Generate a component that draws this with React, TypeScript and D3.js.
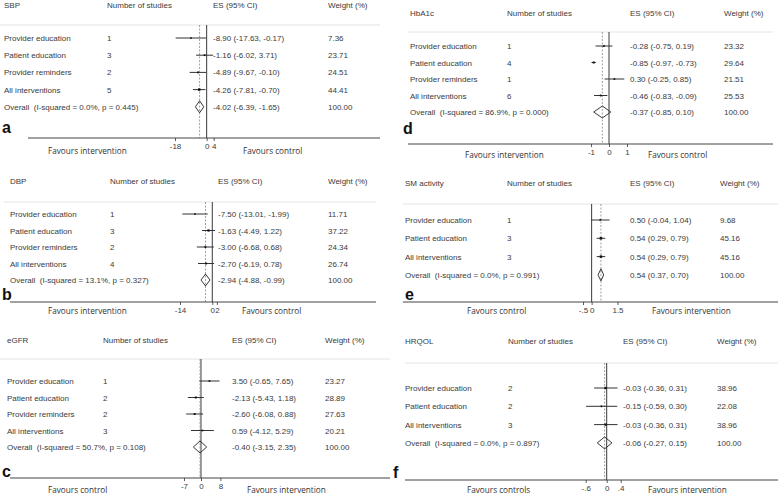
import React, { useEffect, useRef } from "react";
import * as d3 from "d3";

// ---------- DATA ----------
const sbpCategories = ["Provider education", "Patient education", "Provider reminders", "All interventions", "Overall"];
const sbpStudies = ["1", "3", "2", "5", ""];
const sbpEffect = [-8.9, -1.16, -4.89, -4.26, -4.02];
const sbpLower = [-17.63, -6.02, -9.67, -7.81, -6.39];
const sbpUpper = [-0.17, 3.71, -0.1, -0.7, -1.65];
const sbpWeight = [7.36, 23.71, 24.51, 44.41, 100.0];
const sbpHet = "(I-squared = 0.0%, p = 0.445)";
const sbpTicks = [-18, 0, 4];
const sbpTickLabels = ["-18", "0", "4"];

const dbpCategories = ["Provider education", "Patient education", "Provider reminders", "All interventions", "Overall"];
const dbpStudies = ["1", "3", "2", "4", ""];
const dbpEffect = [-7.5, -1.63, -3.0, -2.7, -2.94];
const dbpLower = [-13.01, -4.49, -6.68, -6.19, -4.88];
const dbpUpper = [-1.99, 1.22, 0.68, 0.78, -0.99];
const dbpWeight = [11.71, 37.22, 24.34, 26.74, 100.0];
const dbpHet = "(I-squared = 13.1%, p = 0.327)";
const dbpTicks = [-14, 0, 2];
const dbpTickLabels = ["-14", "0", "2"];

const egfrCategories = ["Provider education", "Patient education", "Provider reminders", "All interventions", "Overall"];
const egfrStudies = ["1", "2", "2", "3", ""];
const egfrEffect = [3.5, -2.13, -2.6, 0.59, -0.4];
const egfrLower = [-0.65, -5.43, -6.08, -4.12, -3.15];
const egfrUpper = [7.65, 1.18, 0.88, 5.29, 2.35];
const egfrWeight = [23.27, 28.89, 27.63, 20.21, 100.0];
const egfrHet = "(I-squared = 50.7%, p = 0.108)";
const egfrTicks = [-7, 0, 8];
const egfrTickLabels = ["-7", "0", "8"];

const hba1cCategories = ["Provider education", "Patient education", "Provider reminders", "All interventions", "Overall"];
const hba1cStudies = ["1", "4", "1", "6", ""];
const hba1cEffect = [-0.28, -0.85, 0.3, -0.46, -0.37];
const hba1cLower = [-0.75, -0.97, -0.25, -0.83, -0.85];
const hba1cUpper = [0.19, -0.73, 0.85, -0.09, 0.1];
const hba1cWeight = [23.32, 29.64, 21.51, 25.53, 100.0];
const hba1cHet = "(I-squared = 86.9%, p = 0.000)";
const hba1cTicks = [-1, 0, 1];
const hba1cTickLabels = ["-1", "0", "1"];

const smCategories = ["Provider education", "Patient education", "All interventions", "Overall"];
const smStudies = ["1", "3", "3", ""];
const smEffect = [0.5, 0.54, 0.54, 0.54];
const smLower = [-0.04, 0.29, 0.29, 0.37];
const smUpper = [1.04, 0.79, 0.79, 0.7];
const smWeight = [9.68, 45.16, 45.16, 100.0];
const smHet = "(I-squared = 0.0%, p = 0.991)";
const smTicks = [-0.5, 0, 1.5];
const smTickLabels = ["-.5", "0", "1.5"];

const hrqolCategories = ["Provider education", "Patient education", "All interventions", "Overall"];
const hrqolStudies = ["2", "2", "3", ""];
const hrqolEffect = [-0.03, -0.15, -0.03, -0.06];
const hrqolLower = [-0.36, -0.59, -0.36, -0.27];
const hrqolUpper = [0.31, 0.3, 0.31, 0.15];
const hrqolWeight = [38.96, 22.08, 38.96, 100.0];
const hrqolHet = "(I-squared = 0.0%, p = 0.897)";
const hrqolTicks = [-0.6, 0, 0.4];
const hrqolTickLabels = ["-.6", "0", ".4"];

// ---------- LAYOUT ----------
type Panel = {
  letter: string; title: string;
  cats: string[]; n: string[]; es: number[]; lo: number[]; hi: number[]; w: number[]; het: string;
  ticks: number[]; tickLabels: string[];
  range: [number, number];
  favL: string; favR: string;
  labelX: number; nX: number; esX: number; wX: number;
  headY: number; sepY: number; sepX1: number; sepX2: number;
  row0: number; rowStep: number;
  axisY: number; axisX1: number; axisX2: number;
  letterX: number; letterY: number;
  favLX: number; favRX: number; favY: number;
};

const panels: Panel[] = [
  {
    letter: "a", title: "SBP", cats: sbpCategories, n: sbpStudies, es: sbpEffect, lo: sbpLower, hi: sbpUpper, w: sbpWeight, het: sbpHet,
    ticks: sbpTicks, tickLabels: sbpTickLabels, range: [175, 213.7],
    favL: "Favours intervention", favR: "Favours control",
    labelX: 4, nX: 107, esX: 213, wX: 328, headY: 5, sepY: 25, sepX1: 0, sepX2: 380,
    row0: 38, rowStep: 17.2, axisY: 138, axisX1: 28, axisX2: 380, letterX: 2, letterY: 133,
    favLX: 48, favRX: 243, favY: 151,
  },
  {
    letter: "b", title: "DBP", cats: dbpCategories, n: dbpStudies, es: dbpEffect, lo: dbpLower, hi: dbpUpper, w: dbpWeight, het: dbpHet,
    ticks: dbpTicks, tickLabels: dbpTickLabels, range: [180, 216.9],
    favL: "Favours intervention", favR: "Favours control",
    labelX: 10, nX: 110, esX: 218, wX: 328, headY: 181, sepY: 202, sepX1: 4, sepX2: 376,
    row0: 214, rowStep: 16.5, axisY: 302, axisX1: 10, axisX2: 376, letterX: 2, letterY: 300,
    favLX: 48, favRX: 242, favY: 311,
  },
  {
    letter: "c", title: "eGFR", cats: egfrCategories, n: egfrStudies, es: egfrEffect, lo: egfrLower, hi: egfrUpper, w: egfrWeight, het: egfrHet,
    ticks: egfrTicks, tickLabels: egfrTickLabels, range: [184, 220.4],
    favL: "Favours control", favR: "Favours intervention",
    labelX: 7, nX: 103, esX: 232, wX: 325, headY: 340, sepY: 359, sepX1: 0, sepX2: 390,
    row0: 381, rowStep: 16.5, axisY: 478, axisX1: 10, axisX2: 390, letterX: 2, letterY: 477,
    favLX: 48, favRX: 247, favY: 490,
  },
  {
    letter: "d", title: "HbA1c", cats: hba1cCategories, n: hba1cStudies, es: hba1cEffect, lo: hba1cLower, hi: hba1cUpper, w: hba1cWeight, het: hba1cHet,
    ticks: hba1cTicks, tickLabels: hba1cTickLabels, range: [591, 627],
    favL: "Favours intervention", favR: "Favours control",
    labelX: 410, nX: 507, esX: 630, wX: 724, headY: 13, sepY: 32, sepX1: 408, sepX2: 773,
    row0: 46, rowStep: 16.5, axisY: 144, axisX1: 408, axisX2: 773, letterX: 403, letterY: 134,
    favLX: 465, favRX: 648, favY: 155,
  },
  {
    letter: "e", title: "SM activity", cats: smCategories, n: smStudies, es: smEffect, lo: smLower, hi: smUpper, w: smWeight, het: smHet,
    ticks: smTicks, tickLabels: smTickLabels, range: [583, 617.5],
    favL: "Favours control", favR: "Favours intervention",
    labelX: 405, nX: 507, esX: 630, wX: 720, headY: 183, sepY: 204, sepX1: 403, sepX2: 778,
    row0: 220, rowStep: 18.3, axisY: 302, axisX1: 403, axisX2: 778, letterX: 405, letterY: 300,
    favLX: 467, favRX: 652, favY: 311,
  },
  {
    letter: "f", title: "HRQOL", cats: hrqolCategories, n: hrqolStudies, es: hrqolEffect, lo: hrqolLower, hi: hrqolUpper, w: hrqolWeight, het: hrqolHet,
    ticks: hrqolTicks, tickLabels: hrqolTickLabels, range: [585.7, 620.7],
    favL: "Favours controls", favR: "Favours intervention",
    labelX: 405, nX: 508, esX: 623, wX: 717, headY: 341, sepY: 363, sepX1: 405, sepX2: 778,
    row0: 388, rowStep: 18.3, axisY: 480, axisX1: 405, axisX2: 778, letterX: 393, letterY: 478,
    favLX: 467, favRX: 648, favY: 490,
  },
];

const TABLE_FONT = "'Liberation Sans', Arial, sans-serif";
const FAV_FONT = "'Open Sans', sans-serif";
const TXT = "#3a3a3a";

const fmt = (v: number) => v.toFixed(2);

function Axis({ p, scale }: { p: Panel; scale: d3.ScaleLinear<number, number> }) {
  const ref = useRef<SVGGElement>(null);
  useEffect(() => {
    if (!ref.current) return;
    const g = d3.select(ref.current);
    g.selectAll("*").remove();
    const axis = d3
      .axisBottom(scale)
      .tickValues(p.ticks)
      .tickFormat((_d, i) => p.tickLabels[i])
      .tickSize(3)
      .tickPadding(2);
    g.call(axis as any);
    g.select(".domain").remove();
    g.selectAll(".tick line").attr("stroke", "#333").attr("stroke-width", 0.8);
    g.selectAll(".tick text")
      .attr("fill", TXT)
      .style("font-family", TABLE_FONT)
      .style("font-size", "8px");
  }, [p, scale]);
  return <g ref={ref} transform={`translate(0,${p.axisY})`} />;
}

function ForestPanel({ p }: { p: Panel }) {
  const x = d3.scaleLinear().domain([p.ticks[0], p.ticks[p.ticks.length - 1]]).range(p.range);
  const last = p.cats.length - 1;
  const rowY = (i: number) => p.row0 + p.rowStep * i;
  const boxSize = d3.scaleSqrt().domain([0, 50]).range([0, 2.6]);
  const textBase = { fontFamily: TABLE_FONT, fontSize: 8, fill: TXT } as const;
  const overallX = x(p.es[last]);
  return (
    <g>
      {/* header */}
      <text x={p.labelX} y={p.headY + 3} {...textBase}>{p.title}</text>
      <text x={p.nX} y={p.headY + 3} {...textBase}>Number of studies</text>
      <text x={p.esX} y={p.headY + 3} {...textBase}>ES (95% CI)</text>
      <text x={p.wX} y={p.headY + 3} {...textBase}>Weight (%)</text>
      <line x1={p.sepX1} x2={p.sepX2} y1={p.sepY} y2={p.sepY} stroke="#e4e4e4" strokeWidth={1} />

      {/* null line and overall dashed line */}
      <line x1={x(0)} x2={x(0)} y1={p.sepY} y2={p.axisY} stroke="#222" strokeWidth={0.9} />
      <line x1={overallX} x2={overallX} y1={p.sepY} y2={p.axisY} stroke="#888" strokeWidth={0.8} strokeDasharray="2,1.5" />

      {p.cats.map((c, i) => {
        const y = rowY(i);
        const isOverall = i === last;
        const bs = Math.max(1.6, boxSize(p.w[i]));
        return (
          <g key={c}>
            {isOverall ? (
              <text x={p.labelX} y={y + 3} {...textBase} style={{ whiteSpace: "pre" }}>
                {"Overall  " + p.het}
              </text>
            ) : (
              <text x={p.labelX} y={y + 3} {...textBase}>{c}</text>
            )}
            <text x={p.nX} y={y + 3} {...textBase}>{p.n[i]}</text>
            <text x={p.esX} y={y + 3} {...textBase}>
              {`${fmt(p.es[i])} (${fmt(p.lo[i])}, ${fmt(p.hi[i])})`}
            </text>
            <text x={p.wX} y={y + 3} {...textBase}>{fmt(p.w[i])}</text>
            {isOverall ? (
              <path
                d={`M${x(p.lo[i])},${y} L${x(p.es[i])},${y - 6} L${x(p.hi[i])},${y} L${x(p.es[i])},${y + 6} Z`}
                fill="none"
                stroke="#222"
                strokeWidth={0.9}
              />
            ) : (
              <g>
                <line x1={x(p.lo[i])} x2={x(p.hi[i])} y1={y} y2={y} stroke="#333" strokeWidth={1} />
                <rect x={x(p.es[i]) - bs / 2} y={y - bs / 2} width={bs} height={bs} fill="#111" />
              </g>
            )}
          </g>
        );
      })}

      {/* axis */}
      <line x1={p.axisX1} x2={p.axisX2} y1={p.axisY} y2={p.axisY} stroke="#444" strokeWidth={1} />
      <Axis p={p} scale={x} />
      <text x={p.favLX} y={p.favY + 3} fontFamily={FAV_FONT} fontSize={8.2} fill="#333">{p.favL}</text>
      <text x={p.favRX} y={p.favY + 3} fontFamily={FAV_FONT} fontSize={8.2} fill="#333">{p.favR}</text>

      <text x={p.letterX} y={p.letterY} fontFamily={TABLE_FONT} fontWeight="bold" fontSize={16} fill="#111">
        {p.letter}
      </text>
    </g>
  );
}

export default function App() {
  return (
    <svg
      width={778}
      height={494}
      viewBox="0 0 778 494"
      style={{ position: "absolute", left: 0, top: 0, background: "#fff" }}
    >
      <rect width={778} height={494} fill="#fff" />
      {panels.map((p) => (
        <ForestPanel key={p.letter} p={p} />
      ))}
    </svg>
  );
}
